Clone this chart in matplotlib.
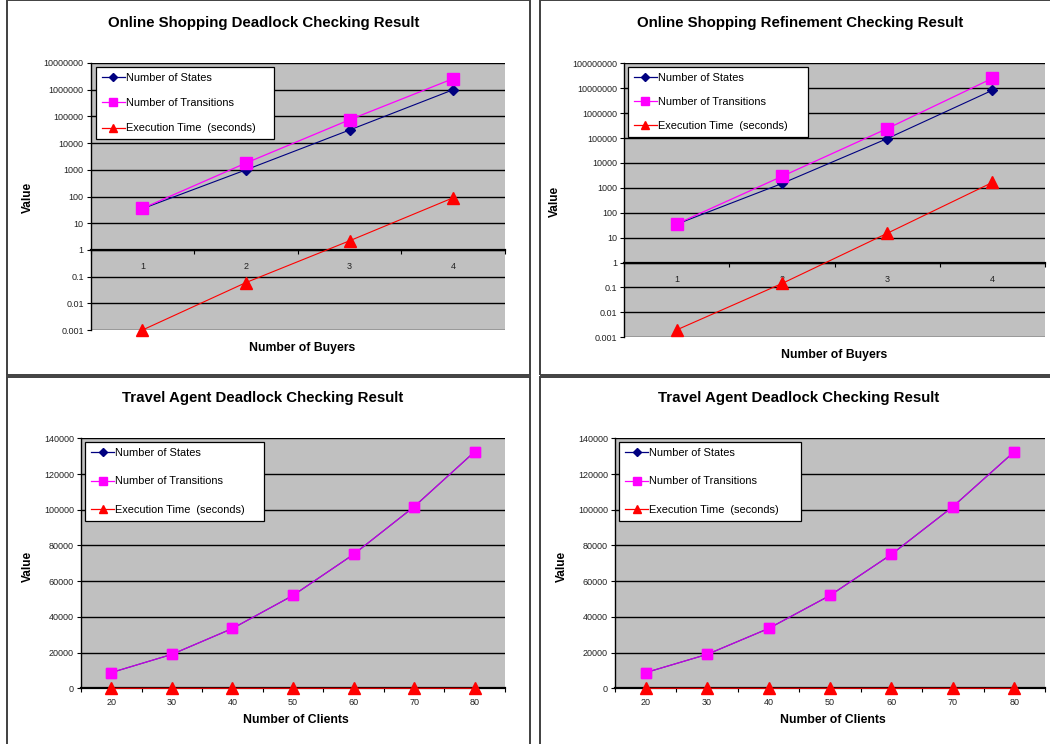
import matplotlib
matplotlib.use("Agg")
import matplotlib.pyplot as plt
from matplotlib.patches import Rectangle
from matplotlib.lines import Line2D
import matplotlib.ticker as mticker

plt.rcParams['font.family'] = ['Liberation Sans', 'DejaVu Sans']

# ---------------- data ----------------
buyers = [1, 2, 3, 4]
os_dead_states = [35, 1000, 31000, 1000000]
os_dead_trans = [36, 1800, 75000, 2600000]
os_dead_time = [0.001, 0.06, 2.2, 90]

os_ref_states = [35, 1500, 95000, 8300000]
os_ref_trans = [36, 2900, 240000, 25000000]
os_ref_time = [0.002, 0.145, 15, 1650]

clients = [20, 30, 40, 50, 60, 70, 80]
ta_states = [8800, 19000, 33500, 52000, 75000, 101700, 132500]
ta_trans = [8800, 19000, 33500, 52000, 75000, 101700, 132500]
ta_time = [0.3, 0.6, 1.0, 1.7, 2.6, 3.8, 5.4]

series_names = ["Number of States", "Number of Transitions", "Execution Time  (seconds)"]
titles = ["Online Shopping Deadlock Checking Result",
          "Online Shopping Refinement Checking Result",
          "Travel Agent Deadlock Checking Result",
          "Travel Agent Deadlock Checking Result"]
xlabels = ["Number of Buyers", "Number of Buyers", "Number of Clients", "Number of Clients"]
ylabel = "Value"

# ---------------- layout ----------------
W, H = 1050, 744
fig = plt.figure(figsize=(W / 100, H / 100), dpi=100)
fig.patch.set_facecolor('white')


def fx(x):
    return x / W


def fy(y):
    return 1 - y / H


def add_ax(x0, y0, x1, y1):
    return fig.add_axes([fx(x0), fy(y1), fx(x1) - fx(x0), (y1 - y0) / H])


# panel borders
for (x0, y0, x1, y1) in [(7, 0.5, 529.5, 375), (540, 0.5, 1056, 375),
                         (7, 376.7, 529.5, 750), (540, 376.7, 1056, 750)]:
    fig.patches.append(Rectangle((fx(x0), fy(y1)), fx(x1) - fx(x0), (y1 - y0) / H,
                                 transform=fig.transFigure, fill=False,
                                 edgecolor='#404040', lw=1.4))

NAVY = '#000080'
MAG = '#FF00FF'
RED = '#FF0000'
BG = '#C0C0C0'


def style_axes(ax):
    ax.set_facecolor(BG)
    for s in ['top', 'right']:
        ax.spines[s].set_visible(False)
    ax.spines['left'].set_color('black')
    ax.spines['left'].set_linewidth(1.0)
    ax.spines['bottom'].set_color('black')
    ax.spines['bottom'].set_linewidth(1.6)
    ax.yaxis.grid(True, color='black', lw=1.0)
    ax.set_axisbelow(True)
    ax.tick_params(axis='y', which='major', direction='out', length=3, width=0.8,
                   labelsize=6.5, labelcolor='#222222', pad=2)
    ax.tick_params(axis='x', which='major', length=0, labelsize=6.5, labelcolor='#222222')
    ax.tick_params(axis='x', which='minor', direction='out', length=3, width=0.8)


def plot_series(ax, x, s, t, e, purple=False, sq=8.5, tri=9.0, dia=4.6):
    ax.plot(x, s, color=NAVY, lw=0.8, marker='D', ms=dia, mfc=NAVY, mec=NAVY, clip_on=False, zorder=3)
    ax.plot(x, t, color=MAG, lw=0.9, marker='s', ms=sq, mfc=MAG, mec=MAG, clip_on=False,
            zorder=4, alpha=0.75 if purple else 1.0)
    if purple:
        ax.plot(x, t, color=MAG, lw=0, marker='s', ms=sq, mfc=MAG, mec=MAG, clip_on=False, zorder=5)
    ax.plot(x, e, color=RED, lw=0.8, marker='^', ms=tri, mfc=RED, mec=RED, clip_on=False, zorder=6)


def add_legend(ax, x0, y0, x1, y1, spacing):
    handles = [Line2D([], [], color=NAVY, lw=0.9, marker='D', ms=4, mfc=NAVY, mec=NAVY),
               Line2D([], [], color=MAG, lw=0.9, marker='s', ms=5.5, mfc=MAG, mec=MAG),
               Line2D([], [], color=RED, lw=0.9, marker='^', ms=5.5, mfc=RED, mec=RED)]
    leg = ax.legend(handles, series_names, loc='upper left',
                    bbox_to_anchor=(fx(x0), fy(y1), fx(x1) - fx(x0), (y1 - y0) / H),
                    bbox_transform=fig.transFigure, mode='expand', borderaxespad=0,
                    fontsize=7.9, frameon=True, fancybox=False, handlelength=2.1,
                    handletextpad=0.1, labelspacing=spacing, borderpad=0.55)
    fr = leg.get_frame()
    fr.set_edgecolor('black')
    fr.set_linewidth(0.9)
    fr.set_facecolor('white')
    fr.set_alpha(1)
    leg.set_zorder(10)


def log_panel(ax, s, t, e, ymin_exp, ymax_exp):
    style_axes(ax)
    ax.set_yscale('log')
    ax.set_ylim(10.0 ** ymin_exp, 10.0 ** ymax_exp)
    ticks = [10.0 ** k for k in range(ymin_exp, ymax_exp + 1)]
    labs = []
    for k in range(ymin_exp, ymax_exp + 1):
        labs.append(('%.*f' % (-k, 10.0 ** k)) if k < 0 else str(10 ** k))
    ax.yaxis.set_major_locator(mticker.FixedLocator(ticks))
    ax.yaxis.set_major_formatter(mticker.FixedFormatter(labs))
    ax.yaxis.set_minor_locator(mticker.NullLocator())
    ax.set_xlim(0.5, 4.5)
    ax.set_xticks(buyers)
    ax.set_xticklabels([str(b) for b in buyers])
    ax.set_xticks([0.5, 1.5, 2.5, 3.5, 4.5], minor=True)
    ax.spines['bottom'].set_position(('data', 1))
    ax.tick_params(axis='x', which='major', pad=9)
    plot_series(ax, buyers, s, t, e)


def lin_panel(ax):
    style_axes(ax)
    ax.set_ylim(0, 140000)
    ax.set_yticks(range(0, 140001, 20000))
    ax.set_yticklabels([str(v) for v in range(0, 140001, 20000)])
    ax.set_xlim(15, 85)
    ax.set_xticks(clients)
    ax.set_xticklabels([str(c) for c in clients])
    ax.set_xticks([15, 25, 35, 45, 55, 65, 75, 85], minor=True)
    ax.tick_params(axis='x', which='major', pad=7)
    plot_series(ax, clients, ta_states, ta_trans, ta_time, purple=True, sq=7.6, tri=8.5, dia=4.2)


# top-left
ax1 = add_ax(90.7, 63, 505, 330)
log_panel(ax1, os_dead_states, os_dead_trans, os_dead_time, -3, 7)
add_legend(ax1, 95.7, 66.7, 274.3, 139, 1.4)
fig.text(fx(264), fy(23), titles[0], ha='center', va='center', fontsize=10.8, fontweight='bold')
fig.text(fx(28), fy(197), ylabel, ha='center', va='center', rotation=90, fontsize=8.5, fontweight='bold')
fig.text(fx(302), fy(348), xlabels[0], ha='center', va='center', fontsize=8.8, fontweight='bold')

# top-right
ax2 = add_ax(624.3, 63.3, 1045, 337.3)
log_panel(ax2, os_ref_states, os_ref_trans, os_ref_time, -3, 8)
add_legend(ax2, 627.7, 66.7, 808.3, 134.7, 1.3)
fig.text(fx(800), fy(23), titles[1], ha='center', va='center', fontsize=10.8, fontweight='bold')
fig.text(fx(555), fy(201), ylabel, ha='center', va='center', rotation=90, fontsize=8.5, fontweight='bold')
fig.text(fx(834), fy(355), xlabels[1], ha='center', va='center', fontsize=8.8, fontweight='bold')

# bottom-left
ax3 = add_ax(81, 438.3, 505, 688.3)
lin_panel(ax3)
add_legend(ax3, 85, 441.7, 264.3, 520, 1.7)
fig.text(fx(262.5), fy(398), titles[2], ha='center', va='center', fontsize=10.8, fontweight='bold')
fig.text(fx(28), fy(566), ylabel, ha='center', va='center', rotation=90, fontsize=8.5, fontweight='bold')
fig.text(fx(295.5), fy(720), xlabels[2], ha='center', va='center', fontsize=8.8, fontweight='bold')

# bottom-right
ax4 = add_ax(615, 438.3, 1045, 688.3)
lin_panel(ax4)
add_legend(ax4, 619.3, 441.7, 801.3, 520, 1.7)
fig.text(fx(799), fy(398), titles[3], ha='center', va='center', fontsize=10.8, fontweight='bold')
fig.text(fx(562), fy(566), ylabel, ha='center', va='center', rotation=90, fontsize=8.5, fontweight='bold')
fig.text(fx(833), fy(720), xlabels[3], ha='center', va='center', fontsize=8.8, fontweight='bold')

fig.savefig('out.png', dpi=100, facecolor='white')
